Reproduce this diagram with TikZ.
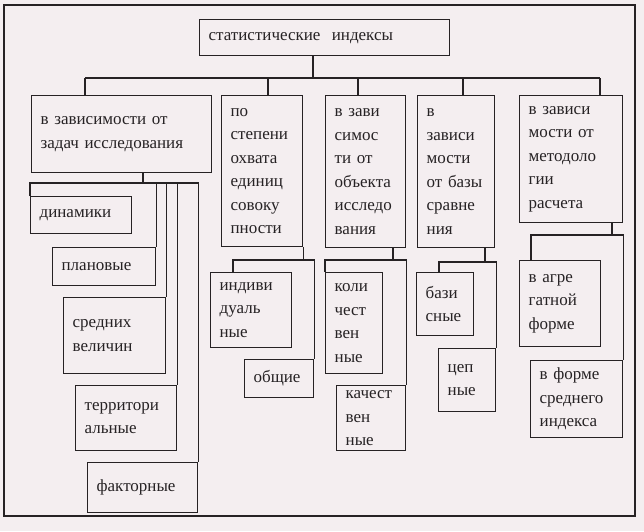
\documentclass[tikz,border=0pt]{standalone}
\usepackage{fontspec}
\setmainfont{Liberation Serif}
\usepackage{xcolor}
\usepackage{tikz}
\usetikzlibrary{calc}
\definecolor{siInk}{HTML}{262224}
\definecolor{siPaper}{HTML}{F4EEF0}

\begin{document}
\begin{tikzpicture}[x=1pt, y=-1pt, font=\fontsize{17}{23.5}\selectfont, line width=1.3pt,
  box/.style={draw=siInk, text=siInk, rectangle, inner xsep=9pt, inner ysep=0pt,
              align=left, anchor=north west},
  link/.style={draw=siInk}]
  \fill[siPaper] (0,0) rectangle (644,531);
  \draw[siInk, line width=2.2pt] (4,5) rectangle (635,516);
  \foreach \n/\x/\y/\w/\h/\t in {
    top/199/19/250/36/{статистические\ \ индексы},
    b1/31/95/180/77/{в зависимости от\\задач исследования},
    b2/221/95/81/151/{по\\степени\\охвата\\единиц\\совоку\\пности},
    b3/325/95/80/152/{в зави\\симос\\ти от\\объекта\\исследо\\вания},
    b4/417/95/77/152/{в\\зависи\\мости\\от базы\\сравне\\ния},
    b5/519/95/103/127/{в зависи\\мости от\\методоло\\гии\\расчета},
    dyn/30/196/101/37/{динамики},
    plan/52/247/103/38/{плановые},
    sred/63/297/102/76/{средних\\величин},
    terr/75/385/101/65/{территори\\альные},
    fak/87/462/110/50/{факторные},
    ind/210/272/81/75/{индиви\\дуаль\\ные},
    obs/244/359/69/38/{общие},
    kol/325/272/57/101/{коли\\чест\\вен\\ные},
    kac/336/385/69/65/{качест\\вен\\ные},
    baz/416/272/57/63/{бази\\сные},
    cep/438/348/57/63/{цеп\\ные},
    agr/519/260/81/86/{в агре\\гатной\\форме},
    frm/530/360/92/77/{в форме\\среднего\\индекса}
  } {
    \pgfmathsetmacro\tw{\w-18}
    \node[box, minimum width=\w pt, minimum height=\h pt, text width=\tw pt] (\n) at (\x,\y) {\t};
  }

  \coordinate (dt) at (313,78);
  \draw[link] (dt |- top.south) -- (dt);
  \foreach \b/\x in {b1/85,b2/268,b3/358,b4/463,b5/600} {
    \coordinate (d\b) at (\x,78);
    \draw[link] (d\b) -- (d\b |- \b.north);
  }
  \draw[link] (db1) -- (db5);

  \coordinate (j1) at (143,183);
  \draw[link] (j1 |- b1.south) -- (j1);
  \draw[link] (dyn.north west) -- (dyn.north west |- j1) -| (fak.north east);
  \foreach \c in {plan,sred,terr}
    \draw[link] (\c.north east |- j1) -- (\c.north east);

  \coordinate (j2) at (233,260);
  \draw[link] (b2.south east) -- (b2.south east |- j2);
  \draw[link] (j2 |- ind.north) -- (j2) -| (obs.north east);

  \coordinate (j3) at (393,260);
  \draw[link] (j3 |- b3.south) -- (j3);
  \draw[link] (kol.north west) -- (kol.north west |- j3) -| (kac.north east);

  \coordinate (j4) at (485,262);
  \coordinate (k4) at (439,262);
  \draw[link] (j4 |- b4.south) -- (j4);
  \draw[link] (k4 |- baz.north) -- (k4) -| (cep.north east);

  \coordinate (j5) at (612,235);
  \coordinate (k5) at (531,235);
  \draw[link] (j5 |- b5.south) -- (j5);
  \draw[link] (k5 |- agr.north) -- (k5) -| (frm.north east);
\end{tikzpicture}
\end{document}
